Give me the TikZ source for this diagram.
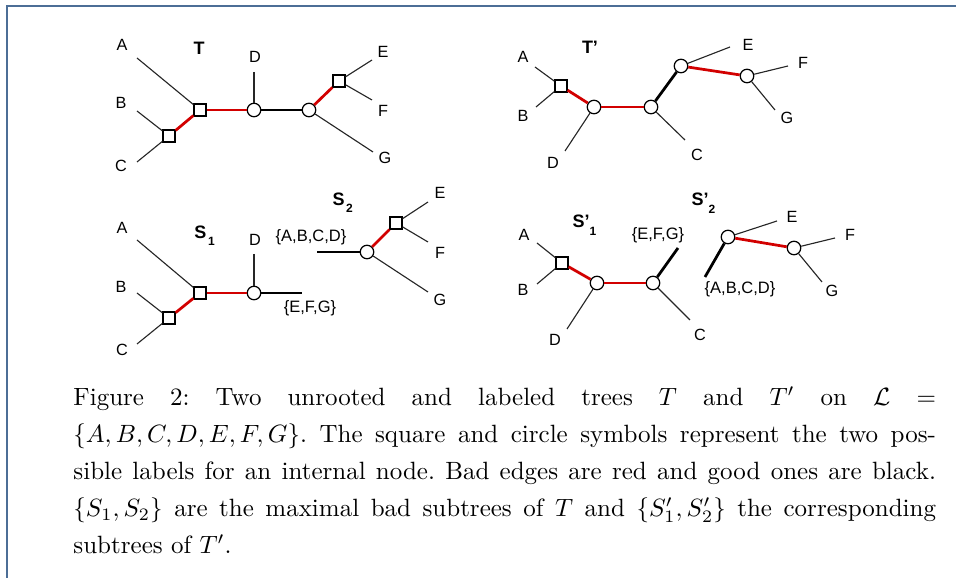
\documentclass[tikz,border=0pt]{standalone}
\usepackage{fontspec}
\newfontfamily\arialf{Liberation Sans}
\definecolor{frameblue}{RGB}{76,110,150}
\definecolor{badred}{RGB}{210,0,0}
\begin{document}
\begin{tikzpicture}[x=0.4pt,y=-0.4pt,
 leafedge/.style={line width=0.45pt, draw=black!85},
 badedge/.style={line width=1.1pt, draw=badred},
 goodedge/.style={line width=1.1pt, draw=black},
 sq/.style={draw, line width=0.5pt, fill=white, minimum size=4.8pt, inner sep=0pt, rectangle},
 circ/.style={draw, line width=0.5pt, fill=white, minimum size=5.4pt, inner sep=0pt, circle},
 lab/.style={font=\arialf\fontsize{6.5}{7.5}\selectfont, inner sep=0pt},
 setlab/.style={font=\arialf\fontsize{6.6}{7.6}\selectfont, inner sep=0pt},
 ttl/.style={font=\arialf\bfseries\fontsize{7.2}{8}\selectfont, inner sep=0pt},
 ttlsub/.style={font=\arialf\bfseries\fontsize{7.2}{8}\selectfont, inner sep=0pt, anchor=base west},
]
\newcommand{\mysub}[1]{\raisebox{-3pt}{\fontsize{4.8}{5}\selectfont #1}}
\useasboundingbox (0,0) rectangle (956,578);
\draw[frameblue, line width=0.8pt] (7,578) -- (7,6) -- (956,6);

% ---------- Tree T ----------
\node[ttl] (tT) at (199,48) {T};
\node[lab] (TA) at (122,45) {A};
\node[lab] (TB) at (121,103) {B};
\node[lab] (TC) at (121,166) {C};
\node[lab] (TD) at (255,57) {D};
\node[lab] (TE) at (383,52) {E};
\node[lab] (TF) at (383,111) {F};
\node[lab] (TG) at (385,158) {G};
\coordinate (Ta) at (137,58);
\coordinate (Tb) at (137,111);
\coordinate (Tc) at (137,162);
\coordinate (Td) at (254,72);
\coordinate (Te) at (372,60);
\coordinate (Tf) at (372,100);
\coordinate (Tg) at (373,152);
\node[sq] (T1) at (169,136) {};
\node[sq] (T2) at (200,110) {};
\node[circ] (T3) at (254,110) {};
\node[circ] (T4) at (309,110) {};
\node[sq] (T5) at (339,81) {};
\draw[leafedge] (Ta) -- (T2);
\draw[leafedge] (Tb) -- (T1);
\draw[leafedge] (Tc) -- (T1);
\draw[leafedge] (Td) -- (T3);
\draw[leafedge] (Te) -- (T5);
\draw[leafedge] (Tf) -- (T5);
\draw[leafedge] (Tg) -- (T4);
\draw[badedge] (T1) -- (T2);
\draw[badedge] (T2) -- (T3);
\draw[goodedge] (T3) -- (T4);
\draw[badedge] (T4) -- (T5);

% ---------- Tree T' ----------
\node[ttl] (tTp) at (590,47) {T’};
\node[lab] (PA) at (523,57) {A};
\node[lab] (PB) at (523,116) {B};
\node[lab] (PD) at (553,163) {D};
\node[lab] (PC) at (697,155) {C};
\node[lab] (PE) at (748,45) {E};
\node[lab] (PF) at (803,63) {F};
\node[lab] (PG) at (787,118) {G};
\coordinate (Pa) at (535,67);
\coordinate (Pb) at (536,107);
\coordinate (Pd) at (565,151);
\coordinate (Pc) at (685,140);
\coordinate (Pe) at (730,47);
\coordinate (Pf) at (788,66);
\coordinate (Pg) at (775,110);
\node[sq] (P1) at (561,86) {};
\node[circ] (P2) at (594,107) {};
\node[circ] (P3) at (651,107) {};
\node[circ] (P4) at (681,66) {};
\node[circ] (P5) at (747,76) {};
\draw[leafedge] (Pa) -- (P1);
\draw[leafedge] (Pb) -- (P1);
\draw[leafedge] (Pd) -- (P2);
\draw[leafedge] (Pc) -- (P3);
\draw[leafedge] (Pe) -- (P4);
\draw[leafedge] (Pf) -- (P5);
\draw[leafedge] (Pg) -- (P5);
\draw[badedge] (P1) -- (P2);
\draw[badedge] (P2) -- (P3);
\draw[goodedge] (P3) -- (P4);
\draw[badedge] (P4) -- (P5);

% ---------- S1 ----------
\node[ttlsub] (tS1) at (194,238.5) {S\hspace{0.6pt}\mysub{1}};
\node[lab] (SA) at (122,228) {A};
\node[lab] (SB) at (121,287) {B};
\node[lab] (SC) at (122,350) {C};
\node[lab] (SD) at (255,240) {D};
\node[setlab] (SEFG) at (310,308) {\{E,F,G\}};
\coordinate (Sa) at (137,240);
\coordinate (Sb) at (137,293);
\coordinate (Sc) at (137,344);
\coordinate (Sd) at (254,254);
\coordinate (Sx) at (302,293);
\node[sq] (S11) at (169,318) {};
\node[sq] (S12) at (200,293) {};
\node[circ] (S13) at (254,293) {};
\draw[leafedge] (Sa) -- (S12);
\draw[leafedge] (Sb) -- (S11);
\draw[leafedge] (Sc) -- (S11);
\draw[leafedge] (Sd) -- (S13);
\draw[badedge] (S11) -- (S12);
\draw[badedge] (S12) -- (S13);
\draw[goodedge] (S13) -- (Sx);

% ---------- S2 ----------
\node[ttlsub] (tS2) at (332,205.5) {S\hspace{0.6pt}\mysub{2}};
\node[setlab] (SABCD) at (311,237) {\{A,B,C,D\}};
\node[lab] (SE) at (440,193) {E};
\node[lab] (SF) at (440,253) {F};
\node[lab] (SG) at (440,300) {G};
\coordinate (Sy) at (317,252);
\coordinate (Se) at (428,202);
\coordinate (Sf) at (428,242);
\coordinate (Sg) at (428,292);
\node[circ] (S21) at (367,252) {};
\node[sq] (S22) at (396,223) {};
\draw[leafedge] (Se) -- (S22);
\draw[leafedge] (Sf) -- (S22);
\draw[leafedge] (Sg) -- (S21);
\draw[goodedge] (Sy) -- (S21);
\draw[badedge] (S21) -- (S22);

% ---------- S'1 ----------
\node[ttlsub] (tSp1) at (572,228) {S’\mysub{1}};
\node[lab] (QA) at (524,235) {A};
\node[lab] (QB) at (523,290) {B};
\node[lab] (QD) at (555,340) {D};
\node[lab] (QC) at (700,335) {C};
\node[setlab] (QEFG) at (658,235) {\{E,F,G\}};
\coordinate (Qa) at (537,243);
\coordinate (Qb) at (537,284);
\coordinate (Qd) at (567,329);
\coordinate (Qc) at (690,320);
\coordinate (Qx) at (678,248);
\node[sq] (Q11) at (562,263) {};
\node[circ] (Q12) at (597,283) {};
\node[circ] (Q13) at (653,283) {};
\draw[leafedge] (Qa) -- (Q11);
\draw[leafedge] (Qb) -- (Q11);
\draw[leafedge] (Qd) -- (Q12);
\draw[leafedge] (Qc) -- (Q13);
\draw[badedge] (Q11) -- (Q12);
\draw[badedge] (Q12) -- (Q13);
\draw[goodedge] (Q13) -- (Qx);

% ---------- S'2 ----------
\node[ttlsub] (tSp2) at (691,206) {S’\mysub{2}};
\node[setlab] (QABCD) at (740,289) {\{A,B,C,D\}};
\node[lab] (QE) at (792,217) {E};
\node[lab] (QF) at (850,235) {F};
\node[lab] (QG) at (832,291) {G};
\coordinate (Qy) at (705,277);
\coordinate (Qe) at (777,221);
\coordinate (Qf) at (835,238);
\coordinate (Qg) at (822,282);
\node[circ] (Q21) at (728,237) {};
\node[circ] (Q22) at (794,248) {};
\draw[leafedge] (Qe) -- (Q21);
\draw[leafedge] (Qf) -- (Q22);
\draw[leafedge] (Qg) -- (Q22);
\draw[goodedge] (Qy) -- (Q21);
\draw[badedge] (Q21) -- (Q22);

% ---------- caption ----------
\node[anchor=north west, inner sep=0pt, text width=345pt, align=justify,
      font=\fontsize{10}{14.8}\selectfont\frenchspacing] (cap) at (73,386)
{Figure 2: Two unrooted and labeled trees $T$ and $T'$ on $\mathcal{L}$ $=$\linebreak
$\{A,B,C,D,E,F,G\}$. The square and circle symbols represent the two pos-\linebreak
sible labels for an internal node. Bad edges are red and good ones are black.\linebreak
$\{S_1,S_2\}$ are the maximal bad subtrees of $T$ and $\{S'_1,S'_2\}$ the corresponding\linebreak
subtrees of $T'$.};
\end{tikzpicture}
\end{document}
